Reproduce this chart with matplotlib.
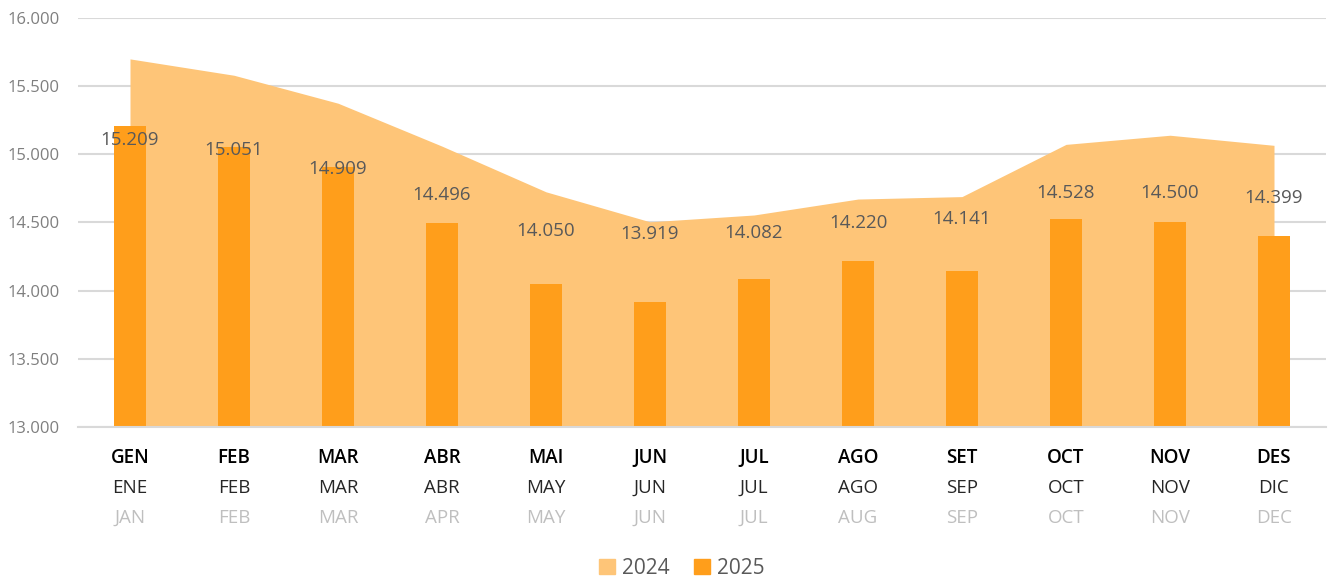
import matplotlib
matplotlib.use("Agg")
import matplotlib.pyplot as plt
import matplotlib.ticker as mticker
from matplotlib.patches import Patch
from matplotlib.transforms import blended_transform_factory

# ---- data ----
months_ca = ["GEN", "FEB", "MAR", "ABR", "MAI", "JUN", "JUL", "AGO", "SET", "OCT", "NOV", "DES"]
months_es = ["ENE", "FEB", "MAR", "ABR", "MAY", "JUN", "JUL", "AGO", "SEP", "OCT", "NOV", "DIC"]
months_en = ["JAN", "FEB", "MAR", "APR", "MAY", "JUN", "JUL", "AUG", "SEP", "OCT", "NOV", "DEC"]
values_2024 = [15700, 15580, 15375, 15060, 14725, 14505, 14555, 14672, 14690, 15073, 15140, 15066]
values_2025 = [15209, 15051, 14909, 14496, 14050, 13919, 14082, 14220, 14141, 14528, 14500, 14399]
label_y_2025 = [15105, 15032, 14890, 14701, 14440, 14415, 14425, 14498, 14523, 14718, 14714, 14682]

# ---- style ----
c_area = "#FEC578"
c_bar = "#FF9E1B"
c_text = "#595959"
c_grid = "#D9D9D9"
font = "Open Sans"

plt.rcParams["font.family"] = [font, "DejaVu Sans"]

fig = plt.figure(figsize=(13.28, 5.82), dpi=100)
ax = fig.add_axes([78/1328, 1-427/582, (1326-78)/1328, (427-18)/582])

x = list(range(len(months_ca)))
ax.fill_between(x, values_2024, 13000, color=c_area, lw=0, zorder=2)
ax.bar(x, values_2025, width=0.31, color=c_bar, zorder=3, bottom=0)

ax.set_ylim(13000, 16000)
ax.set_xlim(-0.5, 11.5)
ax.set_yticks(range(13000, 16001, 500))
ax.yaxis.set_major_formatter(mticker.FuncFormatter(lambda v, p: f"{int(v):,}".replace(",", ".")))
ax.grid(axis="y", color=c_grid, lw=1.5, zorder=0)
ax.set_axisbelow(True)
for s in ["top", "right", "left"]:
    ax.spines[s].set_visible(False)
ax.spines["bottom"].set_color(c_grid)
ax.spines["bottom"].set_linewidth(1.5)
ax.spines["bottom"].set_zorder(4)
ax.tick_params(axis="y", length=0, labelsize=12, labelcolor="#7F7F7F", pad=13)
ax.tick_params(axis="x", length=0)
ax.set_xticks(x)
ax.set_xticklabels([""] * len(x))

for xi, v, ly in zip(x, values_2025, label_y_2025):
    ax.text(xi, ly, f"{v:,}".replace(",", "."), ha="center", va="center",
            fontsize=13.5, color=c_text, zorder=5)

tr = blended_transform_factory(ax.transData, fig.transFigure)
for xi, a, b, c in zip(x, months_ca, months_es, months_en):
    ax.text(xi, 1-458/582, a, transform=tr, ha="center", va="center",
            fontsize=13.5, fontweight="semibold", color="black")
    ax.text(xi, 1-488/582, b, transform=tr, ha="center", va="center",
            fontsize=13.5, color="#262626")
    ax.text(xi, 1-518/582, c, transform=tr, ha="center", va="center",
            fontsize=13.5, color="#BFBFBF")

handles = [Patch(color=c_area, label="2024"), Patch(color=c_bar, label="2025")]
fig.legend(handles=handles, loc="center", bbox_to_anchor=(682/1328, 1-568/582), ncol=2,
           frameon=False, fontsize=15, handlelength=0.75, handleheight=0.75,
           handletextpad=0.35, columnspacing=1.2, labelcolor=c_text)

fig.savefig("out.png", dpi=100)
